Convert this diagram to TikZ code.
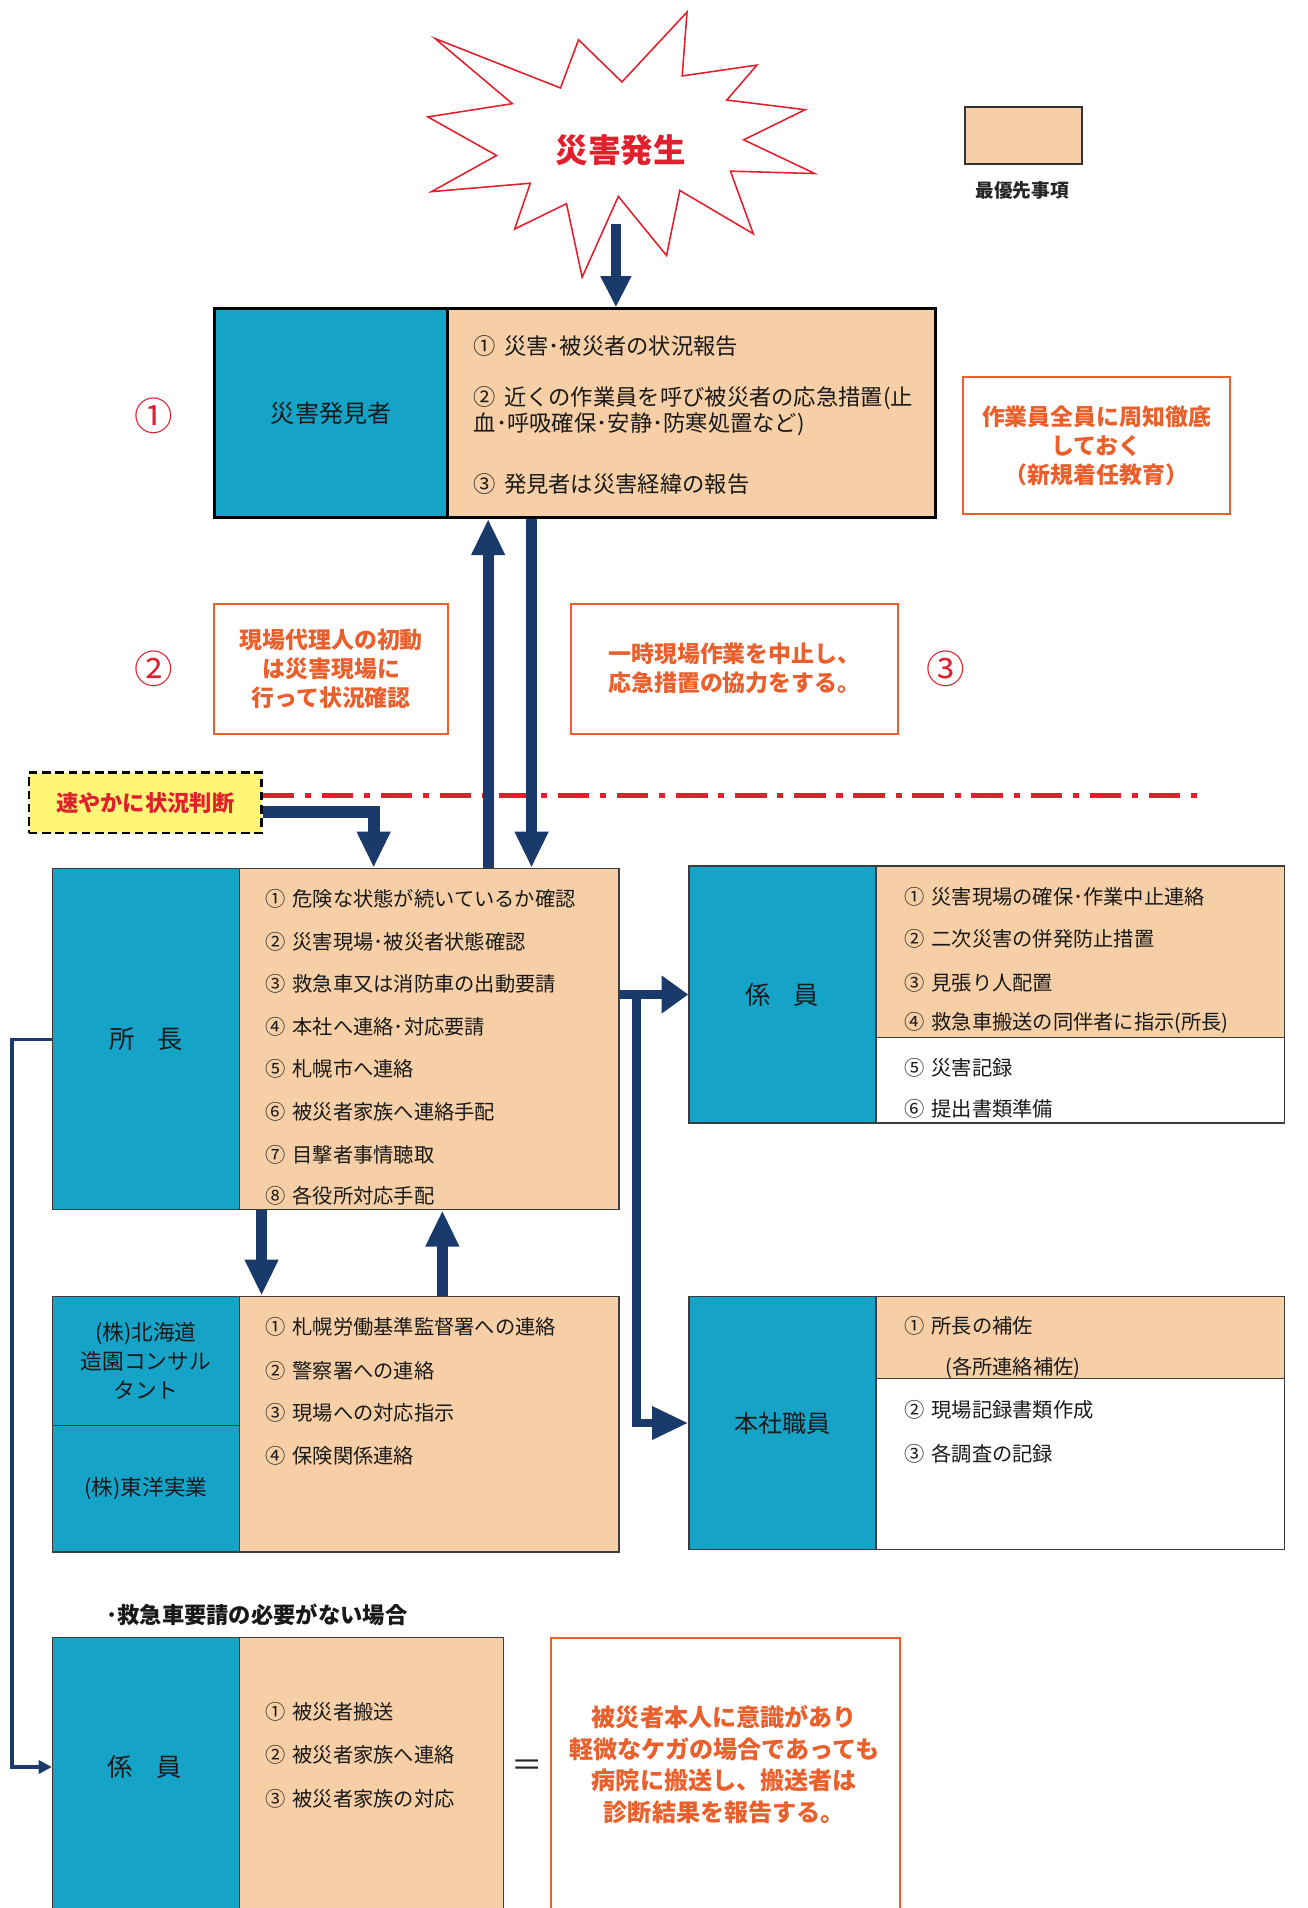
\documentclass[tikz,border=0pt]{standalone}
\usepackage{fontspec}
\setmainfont{Noto Sans CJK JP}
\usetikzlibrary{arrows.meta,calc}
\definecolor{cblue}{RGB}{22,163,200}
\definecolor{ctan}{RGB}{246,207,166}
\definecolor{navy}{RGB}{26,58,108}
\definecolor{cred}{RGB}{226,32,45}
\definecolor{corange}{RGB}{234,96,44}
\definecolor{cyel}{RGB}{255,246,120}
\definecolor{boxline}{RGB}{60,60,60}
\newcommand{\gapp}{\hspace{0.35em}}
\tikzset{
  bluebox/.style={rectangle, fill=cblue, draw=boxline, line width=1.2pt, anchor=north west, inner sep=0pt, text=black!90, font=\fontsize{19}{24}\selectfont, align=center},
  tanbox/.style={rectangle, fill=ctan, draw=boxline, line width=1.2pt, anchor=north west, inner sep=0pt},
  whitebox/.style={rectangle, fill=white, draw=boxline, line width=1.2pt, anchor=north west, inner sep=0pt},
  item/.style={anchor=west, inner sep=0pt, text=black!90, font=\fontsize{16.8}{20}\selectfont},
  itembig/.style={anchor=west, inner sep=0pt, text=black!90, font=\fontsize{18.5}{22}\selectfont, align=left},
  note/.style={rectangle, draw=corange, line width=1.6pt, anchor=north west, inner sep=0pt, text=corange, font=\bfseries\fontsize{19}{24}\selectfont, align=center},
  redcirc/.style={text=cred, font=\fontsize{32}{36}\selectfont, inner sep=0pt},
  navyarrow/.style={draw=navy, line width=9pt, line join=miter, -{Triangle[length=30pt,width=26pt]}},
  thinarrow/.style={draw=navy, line width=2.6pt, -{Triangle[length=11pt,width=11pt]}},
}
\begin{document}
\begin{tikzpicture}[x=1pt,y=-1pt]
\useasboundingbox (0,0) rectangle (1085,1583);
\fill[white] (0,0) rectangle (1085,1583);

% starburst
\draw[cred, line width=1.3pt, fill=white, line join=miter]
 (361,32) -- (465,73) -- (480,33) -- (516,68) -- (570,10) -- (566,63) -- (628,54) -- (603,83)
 -- (668,91) -- (617,116) -- (676,144) -- (606,142) -- (625,194) -- (564,158) -- (553,212)
 -- (513,163) -- (483,230) -- (470,169) -- (427,190) -- (440,152) -- (358,159) -- (412,129)
 -- (355,97) -- (425,86) -- cycle;
\node[text=cred, font=\bfseries\fontsize{27}{30}\selectfont] (star) at (515,125) {災害発生};

% legend
\node[tanbox, draw=black!80, line width=1.6pt, minimum width=97pt, minimum height=47pt] (leg) at (800,88) {};
\node[font=\bfseries\fontsize{15.5}{18}\selectfont, text=black!85] (legt) at (848,158) {最優先事項};

% box 1
\node[bluebox, draw=black, line width=2.5pt, minimum width=193pt, minimum height=173pt, font=\fontsize{20}{24}\selectfont] (b1L) at (177,255) {災害発見者};
\node[tanbox, draw=black, line width=2.5pt, minimum width=405pt, minimum height=173pt] (b1R) at (370,255) {};
\node[itembig] (b1i1) at (393,287) {①\gapp 災害･被災者の状況報告};
\node[itembig] (b1i2) at (393,341) {②\gapp 近くの作業員を呼び被災者の応急措置(止\\血･呼吸確保･安静･防寒処置など)};
\node[itembig] (b1i3) at (393,402) {③\gapp 発見者は災害経緯の報告};
\node[redcirc] (c1) at (128,345) {①};
\node[note, minimum width=222pt, minimum height=114pt] (n1) at (798,312) {作業員全員に周知徹底\\しておく\\（新規着任教育）};

\coordinate (s0) at (511,186);
\draw[navyarrow, line width=8pt, -{Triangle[length=26pt,width=24pt]}] (s0) -- (s0 |- b1R.north);

% notes 2, 3
\node[note, minimum width=194pt, minimum height=108pt] (n2) at (177,500) {現場代理人の初動\\は災害現場に\\行って状況確認};
\node[redcirc] (c2) at (128,555) {②};
\node[note, minimum width=271pt, minimum height=108pt] (n3) at (473,500) {一時現場作業を中止し、\\応急措置の協力をする。};
\node[redcirc] (c3) at (785,555) {③};

% yellow judgement box and dash-dot line
\node[rectangle, fill=cyel, draw=black, line width=2pt, dash pattern=on 7pt off 4pt, minimum width=193pt, minimum height=50pt, anchor=north west, inner sep=0pt, text=cred, font=\bfseries\fontsize{18.5}{22}\selectfont] (yb) at (23,640) {速やかに状況判断};
\coordinate (dl) at (1000,660);
\draw[cred, line width=4pt, dash pattern=on 26pt off 9pt on 5pt off 9pt] (yb.east |- dl) -- (dl);

% 所長 box
\node[bluebox, minimum width=155pt, minimum height=283pt, font=\fontsize{21}{24}\selectfont] (b2L) at (43,720) {所\hspace{0.9em}長};
\node[tanbox, minimum width=315pt, minimum height=283pt] (b2R) at (198,720) {};
\node[item] (b2i1) at (220,746) {①\gapp 危険な状態が続いているか確認};
\node[item] (b2i2) at (220,781) {②\gapp 災害現場･被災者状態確認};
\node[item] (b2i3) at (220,816) {③\gapp 救急車又は消防車の出動要請};
\node[item] (b2i4) at (220,852) {④\gapp 本社へ連絡･対応要請};
\node[item] (b2i5) at (220,887) {⑤\gapp 札幌市へ連絡};
\node[item] (b2i6) at (220,922) {⑥\gapp 被災者家族へ連絡手配};
\node[item] (b2i7) at (220,958) {⑦\gapp 目撃者事情聴取};
\node[item] (b2i8) at (220,992) {⑧\gapp 各役所対応手配};

% arrows between box 1 and 所長
\path (b2R.north west) ++(207,0) coordinate (u1);
\draw[navyarrow] (u1) -- (u1 |- b1R.south);
\path (b1R.south west) ++(71,0) coordinate (d1);
\draw[navyarrow] (d1) -- (d1 |- b2R.north);
\path (b2R.north west) ++(112,0) coordinate (ye);
\draw[navyarrow, line width=10pt] ($(yb.east)+(0,8)$) -| (ye);

% 係員 (right)
\node[bluebox, minimum width=155pt, minimum height=213pt, font=\fontsize{21}{24}\selectfont] (b3L) at (571,718) {係\hspace{0.9em}員};
\node[tanbox, minimum width=339pt, minimum height=142pt] (b3R) at (726,718) {};
\node[whitebox, minimum width=339pt, minimum height=71pt] (b3W) at (726,860) {};
\node[item] (b3i1) at (750,744) {①\gapp 災害現場の確保･作業中止連絡};
\node[item] (b3i2) at (750,779) {②\gapp 二次災害の併発防止措置};
\node[item] (b3i3) at (750,815) {③\gapp 見張り人配置};
\node[item] (b3i4) at (750,849) {④\gapp 救急車搬送の同伴者に指示(所長)};
\node[item] (b3i5) at (750,886) {⑤\gapp 災害記録};
\node[item] (b3i6) at (750,920) {⑥\gapp 提出書類準備};

% 北海道 box
\node[bluebox, minimum width=155pt, minimum height=107pt, font=\fontsize{18}{24}\selectfont] (b4L1) at (43,1075) {(株)北海道\\造園コンサル\\タント};
\node[bluebox, minimum width=155pt, minimum height=105pt, font=\fontsize{18}{24}\selectfont] (b4L2) at (43,1182) {(株)東洋実業};
\node[tanbox, minimum width=315pt, minimum height=212pt] (b4R) at (198,1075) {};
\node[item] (b4i1) at (220,1101) {①\gapp 札幌労働基準監督署への連絡};
\node[item] (b4i2) at (220,1137) {②\gapp 警察署への連絡};
\node[item] (b4i3) at (220,1172) {③\gapp 現場への対応指示};
\node[item] (b4i4) at (220,1208) {④\gapp 保険関係連絡};

\path (b2R.south west) ++(19,0) coordinate (d2);
\draw[navyarrow] (d2) -- (d2 |- b4R.north);
\path (b4R.north west) ++(169,0) coordinate (u2);
\draw[navyarrow] (u2) -- (u2 |- b2R.south);

% 本社職員 box
\node[bluebox, minimum width=155pt, minimum height=210pt, font=\fontsize{20}{24}\selectfont] (b5L) at (571,1075) {本社職員};
\node[tanbox, minimum width=339pt, minimum height=68pt] (b5R) at (726,1075) {};
\node[whitebox, minimum width=339pt, minimum height=142pt] (b5W) at (726,1143) {};
\node[item] (b5i1) at (750,1100) {①\gapp 所長の補佐};
\node[item] (b5i1b) at (784,1135) {(各所連絡補佐)};
\node[item] (b5i2) at (750,1170) {②\gapp 現場記録書類作成};
\node[item] (b5i3) at (750,1206) {③\gapp 各調査の記録};

% arrows 所長 -> 係員, 本社職員
\path (b3L.west -| b2R.east) ++(14,0) coordinate (br);
\draw[navyarrow, line width=7pt] (br) |- (b5L.west);
\draw[navyarrow, line width=8pt, -{Triangle[length=22pt,width=30pt]}] (b3L.west -| b2R.east) -- (b3L.west);

% bottom section
\node[anchor=west, inner sep=0pt, text=black!90, font=\bfseries\fontsize{18.5}{22}\selectfont] (hdr) at (88,1340) {･救急車要請の必要がない場合};
\node[bluebox, minimum width=155pt, minimum height=260pt] (b6L) at (43,1358) {};
\node[text=black!90, font=\fontsize{21}{24}\selectfont] (b6t) at (120,1466) {係\hspace{0.9em}員};
\node[tanbox, minimum width=219pt, minimum height=260pt] (b6R) at (198,1358) {};
\node[item] (b6i1) at (220,1420) {①\gapp 被災者搬送};
\node[item] (b6i2) at (220,1456) {②\gapp 被災者家族へ連絡};
\node[item] (b6i3) at (220,1492) {③\gapp 被災者家族の対応};
\node[text=black!85, font=\fontsize{26}{28}\selectfont] (eq) at (437,1467) {＝};
\node[note, minimum width=290pt, minimum height=260pt] (n4) at (456,1358) {};
\node[text=corange, font=\bfseries\fontsize{20}{26.5}\selectfont, align=center] (n4t) at (601,1464) {被災者本人に意識があり\\軽微なケガの場合であっても\\病院に搬送し、搬送者は\\診断結果を報告する。};

\path (b6L.north west) ++(0,108) coordinate (t6);
\draw[thinarrow] (b2L.west) -- ++(-33,0) |- (t6);
\end{tikzpicture}
\end{document}
